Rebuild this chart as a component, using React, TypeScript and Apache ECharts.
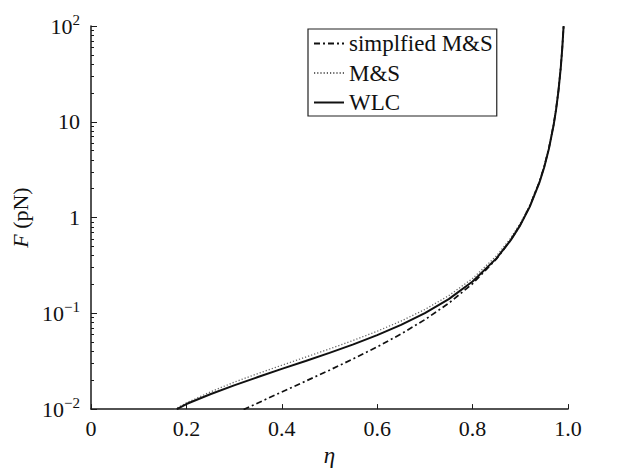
import React, { useEffect, useRef } from "react";
import * as echarts from "echarts";

const FONT = "Liberation Serif";

const xTickValues = [0, 0.2, 0.4, 0.6, 0.8, 1.0];
const xTickLabels = ["0", "0.2", "0.4", "0.6", "0.8", "1.0"];
const yMajorValues = [0.01, 0.1, 1, 10, 100];
const yTickLabels = ["{b|10}{s|−2}", "{b|10}{s|−1}", "{b|1}", "{b|10}", "{b|10}{s|2}"];
const yMinorValues = [
  0.02, 0.03, 0.04, 0.05, 0.06, 0.07, 0.08, 0.09,
  0.2, 0.3, 0.4, 0.5, 0.6, 0.7, 0.8, 0.9,
  2, 3, 4, 5, 6, 7, 8, 9,
  20, 30, 40, 50, 60, 70, 80, 90,
];

const legendNames = ["simplfied M&S", "M&S", "WLC"];

const etaSimplified = [0.32, 0.35, 0.4, 0.45, 0.5, 0.55, 0.6, 0.65, 0.7, 0.75, 0.8, 0.85, 0.88, 0.9, 0.92, 0.94, 0.95, 0.96, 0.97, 0.975, 0.98, 0.985, 0.988, 0.9908];
const fSimplified = [0.0099, 0.0116, 0.0151, 0.0196, 0.0255, 0.0335, 0.0446, 0.0609, 0.0859, 0.1275, 0.204, 0.369, 0.582, 0.842, 1.32, 2.35, 3.39, 5.3, 9.44, 13.6, 21.2, 37.8, 59.0, 100];

const etaMS = [0.175, 0.2, 0.25, 0.3, 0.35, 0.4, 0.45, 0.5, 0.55, 0.6, 0.65, 0.7, 0.75, 0.8, 0.85, 0.88, 0.9, 0.92, 0.94, 0.95, 0.96, 0.97, 0.975, 0.98, 0.985, 0.988, 0.9908];
const fMS = [0.0099, 0.0116, 0.0151, 0.0191, 0.0235, 0.0287, 0.0349, 0.0425, 0.0522, 0.065, 0.083, 0.1097, 0.153, 0.231, 0.398, 0.612, 0.872, 1.35, 2.39, 3.42, 5.34, 9.47, 13.6, 21.3, 37.8, 59.1, 100];

const etaWLC = [0.18, 0.2, 0.25, 0.3, 0.35, 0.4, 0.45, 0.5, 0.55, 0.6, 0.65, 0.7, 0.75, 0.8, 0.85, 0.88, 0.9, 0.92, 0.94, 0.95, 0.96, 0.97, 0.975, 0.98, 0.985, 0.988, 0.9908];
const fWLC = [0.01, 0.0113, 0.0143, 0.0177, 0.0216, 0.0263, 0.0318, 0.0386, 0.0474, 0.0592, 0.0757, 0.1004, 0.1408, 0.215, 0.375, 0.581, 0.833, 1.3, 2.31, 3.33, 5.22, 9.31, 13.4, 21.0, 37.5, 58.7, 100];

const pairs = (xs: number[], ys: number[]) => xs.map((x, i) => [x, ys[i]]);

export default function App() {
  const ref = useRef<HTMLDivElement>(null);
  useEffect(() => {
    if (!ref.current) return;
    const chart = echarts.init(ref.current, null, { renderer: "svg" });
    const axisColor = "#1a1a1a";
    chart.setOption({
      animation: false,
      backgroundColor: "#ffffff",
      textStyle: { fontFamily: FONT },
      grid: { left: 91, right: 57, top: 26, bottom: 50, containLabel: false },
      legend: {
        orient: "vertical",
        left: 308,
        top: 29,
        padding: [3, 4, 2, 5],
        itemWidth: 30,
        itemHeight: 14,
        itemGap: 6.5,
        borderColor: "#222",
        borderWidth: 1.2,
        backgroundColor: "#fff",
        data: legendNames,
        itemStyle: { opacity: 0 },
        textStyle: { fontFamily: FONT, fontSize: 23, color: "#111", lineHeight: 23 },
      },
      xAxis: {
        type: "value",
        min: 0,
        max: 1,
        interval: 0.2,
        name: "η",
        nameLocation: "middle",
        nameGap: 28,
        nameTextStyle: { fontFamily: FONT, fontSize: 23, fontStyle: "italic", color: "#111" },
        axisLine: { show: true, lineStyle: { color: axisColor, width: 1.5 } },
        axisTick: { show: true, inside: true, length: 5, lineStyle: { color: axisColor, width: 1 } },
        splitLine: { show: false },
        axisLabel: {
          margin: 8,
          fontFamily: FONT,
          fontSize: 22,
          color: "#111",
          formatter: (v: number) => {
            const i = xTickValues.findIndex((t) => Math.abs(t - v) < 1e-6);
            return i >= 0 ? xTickLabels[i] : "";
          },
        },
      },
      yAxis: [
        {
          type: "log",
          logBase: 10,
          min: 0.01,
          max: 100,
          position: "left",
          name: "{i|F}{n| (pN)}",
          nameLocation: "middle",
          nameGap: 50,
          nameRotate: 90,
          nameTextStyle: {
            fontFamily: FONT,
            rich: {
              i: { fontFamily: FONT, fontSize: 22, fontStyle: "italic", color: "#111" },
              n: { fontFamily: FONT, fontSize: 22, color: "#111" },
            },
          },
          axisLine: { show: true, lineStyle: { color: axisColor, width: 1.5 } },
          axisTick: { show: true, inside: true, length: 6, lineStyle: { color: axisColor, width: 1 } },
          splitLine: { show: false },
          axisLabel: {
            margin: 11,
            fontFamily: FONT,
            formatter: (v: number) => {
              const i = yMajorValues.findIndex((t) => Math.abs(Math.log10(t) - Math.log10(v)) < 1e-6);
              return i >= 0 ? yTickLabels[i] : "";
            },
            rich: {
              b: { fontFamily: FONT, fontSize: 22, color: "#111", lineHeight: 27 },
              s: { fontFamily: FONT, fontSize: 15, color: "#111", verticalAlign: "top", lineHeight: 15 },
            },
          },
        },
        {
          type: "log",
          logBase: 10,
          min: 0.01,
          max: 100,
          position: "left",
          axisLine: { show: true, lineStyle: { color: "rgba(0,0,0,0)", width: 0 } },
          axisLabel: { show: false },
          splitLine: { show: false },
          axisTick: {
            show: true,
            inside: true,
            length: 3,
            customValues: yMinorValues,
            lineStyle: { color: axisColor, width: 1 },
          },
        },
      ],
      series: [
        {
          name: legendNames[0],
          type: "line",
          symbol: "none",
          data: pairs(etaSimplified, fSimplified),
          lineStyle: { color: "#111", width: 1.7, type: [6, 3, 2, 3] },
          itemStyle: { color: "#111" },
          z: 2,
        },
        {
          name: legendNames[1],
          type: "line",
          symbol: "none",
          data: pairs(etaMS, fMS),
          lineStyle: { color: "#666", width: 1.3, type: [1.2, 2] },
          itemStyle: { color: "#666" },
          z: 1,
        },
        {
          name: legendNames[2],
          type: "line",
          symbol: "none",
          data: pairs(etaWLC, fWLC),
          lineStyle: { color: "#111", width: 2 },
          itemStyle: { color: "#111" },
          z: 3,
        },
      ],
    });
    return () => chart.dispose();
  }, []);
  return (
    <div
      ref={ref}
      style={{ position: "fixed", left: 0, top: 0, width: 625, height: 472, background: "#fff" }}
    />
  );
}
